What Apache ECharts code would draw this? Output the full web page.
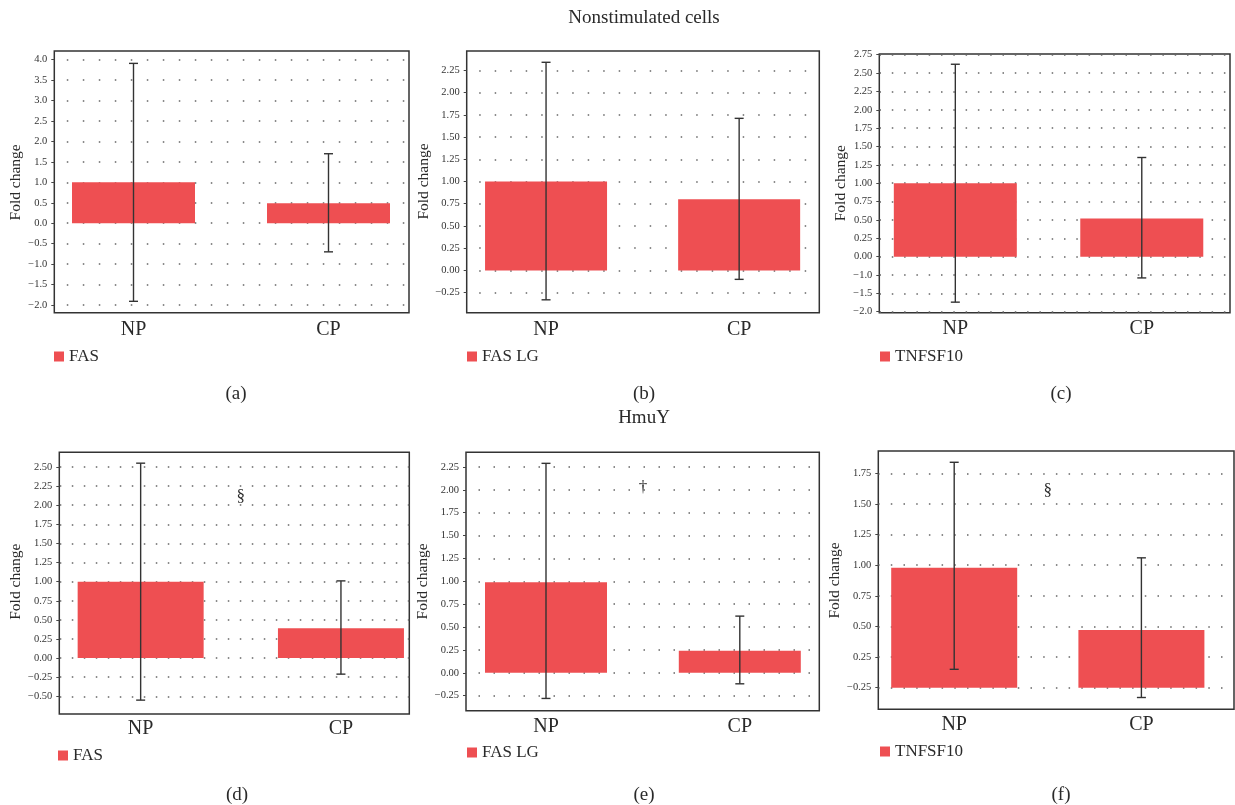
<!DOCTYPE html>
<html>
<head>
<meta charset="utf-8">
<script src="https://cdn.jsdelivr.net/npm/echarts@6/dist/echarts.min.js"></script>
<style>html,body{margin:0;padding:0;background:#fff}#c{width:1235px;height:805px}</style>
</head>
<body>
<div id="c"></div>
<script>
// ---------- data ----------
const categories = ['NP', 'CP'];
const groupTitles = ['Nonstimulated cells', 'HmuY'];
const captions = ['(a)', '(b)', '(c)', '(d)', '(e)', '(f)'];
const genes = ['FAS', 'FAS LG', 'TNFSF10', 'FAS', 'FAS LG', 'TNFSF10'];

// (a) Nonstimulated FAS
const valuesA = [1.00, 0.49];
const errLowA = [-1.91, -0.70];
const errHighA = [3.91, 1.70];
// (b) Nonstimulated FAS LG
const valuesB = [1.00, 0.80];
const errLowB = [-0.33, -0.10];
const errHighB = [2.34, 1.71];
// (c) Nonstimulated TNFSF10
const valuesC = [1.00, 0.52];
const errLowC = [-0.62, -0.29];
const errHighC = [2.62, 1.35];
// (d) HmuY FAS
const valuesD = [1.00, 0.39];
const errLowD = [-0.55, -0.21];
const errHighD = [2.55, 1.01];
// (e) HmuY FAS LG
const valuesE = [0.99, 0.24];
const errLowE = [-0.28, -0.12];
const errHighE = [2.29, 0.62];
// (f) HmuY TNFSF10
const valuesF = [0.98, 0.47];
const errLowF = [0.15, -0.08];
const errHighF = [1.84, 1.06];

// axis scale [min, max, interval]
const rangeA = [-2, 4, 0.5];
const rangeB = [-0.25, 2.25, 0.25];
const rangeC = [-0.75, 2.75, 0.25];
const rangeD = [-0.5, 2.5, 0.25];
const rangeE = [-0.25, 2.25, 0.25];
const rangeF = [0, 1.75, 0.25];

// tick labels as printed (bottom to top)
const ticksA = ['\u22122.0','\u22121.5','\u22121.0','\u22120.5','0.0','0.5','1.0','1.5','2.0','2.5','3.0','3.5','4.0'];
const ticksB = ['\u22120.25','0.00','0.25','0.50','0.75','1.00','1.25','1.50','1.75','2.00','2.25'];
const ticksC = ['\u22122.0','\u22121.5','\u22121.0','0.00','0.25','0.50','0.75','1.00','1.25','1.50','1.75','2.00','2.25','2.50','2.75'];
const ticksD = ['\u22120.50','\u22120.25','0.00','0.25','0.50','0.75','1.00','1.25','1.50','1.75','2.00','2.25','2.50'];
const ticksE = ['\u22120.25','0.00','0.25','0.50','0.75','1.00','1.25','1.50','1.75','2.00','2.25'];
const ticksF = ['\u22120.25','0.25','0.50','0.75','1.00','1.25','1.50','1.75'];

// significance marks
const markD = { text: '\u00a7', y: 2.11 };
const markE = { text: '\u2020', y: 2.03 };
const markF = { text: '\u00a7', y: 1.61 };

// ---------- layout (pixels) ----------
const layout = [
  { box: [54.3, 51, 409, 312.7],   tk: [59.7, 305],   dx: [36, 426],      bw: 123, dot: 16,   gap: 28,   lab: 15,   leg: [54, 348],  cap: [236, 384.5] },
  { box: [466.7, 51, 819.3, 312.7], tk: [70.3, 292.7], dx: [449.5, 835.7], bw: 122, dot: 15.5, gap: 31,   lab: 27.3, leg: [467, 348], cap: [644, 384.5] },
  { box: [879.3, 54, 1230, 312.7], tk: [54.7, 311.7], dx: [862.1, 1251.7], bw: 123, dot: 12.3, gap: 30,   lab: 7.3,  leg: [880, 348], cap: [1061, 384.5] },
  { box: [59.3, 452.3, 409.3, 714], tk: [467, 696.3],  dx: [40.5, 441.1],  bw: 126, dot: 12,   gap: 32.5, lab: 22.7, leg: [58, 747],  cap: [237, 785.5] },
  { box: [466, 452.3, 819.3, 710.7], tk: [467, 695.7], dx: [449.1, 836.7], bw: 122, dot: 15,   gap: 33,   lab: 21.3, leg: [467, 744], cap: [644, 785.5] },
  { box: [878.3, 451, 1234, 709.3], tk: [473.3, 687.7], dx: [860.6, 1258.2], bw: 126, dot: 12.7, gap: 30,  lab: 27.3, leg: [880, 743], cap: [1061, 785.5] }
];
const groupTitlePos = [[644, 9], [644, 408.5]];

const FONT = "'Liberation Serif','DejaVu Serif',serif";
const BAR = '#EE4F52';
const INK = '#2a2a2a';

const panels = [
  { values: valuesA, low: errLowA, high: errHighA, range: rangeA, ticks: ticksA, mark: null },
  { values: valuesB, low: errLowB, high: errHighB, range: rangeB, ticks: ticksB, mark: null },
  { values: valuesC, low: errLowC, high: errHighC, range: rangeC, ticks: ticksC, mark: null },
  { values: valuesD, low: errLowD, high: errHighD, range: rangeD, ticks: ticksD, mark: markD },
  { values: valuesE, low: errLowE, high: errHighE, range: rangeE, ticks: ticksE, mark: markE },
  { values: valuesF, low: errLowF, high: errHighF, range: rangeF, ticks: ticksF, mark: markF }
];

function errorBar(params, api) {
  const x = api.value(0);
  const lo = api.coord([x, api.value(1)]);
  const hi = api.coord([x, api.value(2)]);
  const cap = 4.5;
  const st = { stroke: '#333', lineWidth: 1.4 };
  return {
    type: 'group',
    children: [
      { type: 'line', shape: { x1: hi[0], y1: hi[1], x2: lo[0], y2: lo[1] }, style: st },
      { type: 'line', shape: { x1: hi[0] - cap, y1: hi[1], x2: hi[0] + cap, y2: hi[1] }, style: st },
      { type: 'line', shape: { x1: lo[0] - cap, y1: lo[1], x2: lo[0] + cap, y2: lo[1] }, style: st }
    ]
  };
}

const grid = [], xAxis = [], yAxis = [], series = [], legend = [], title = [];

panels.forEach((p, i) => {
  const L = layout[i];
  const [bl, bt, br, bb] = L.box;
  const [tt, tb] = L.tk;
  const [mn, mx, iv] = p.range;

  // tick/label grid (spans the frame width)
  const gT = grid.length;
  grid.push({ left: bl, top: tt, width: br - bl, height: tb - tt });
  xAxis.push({ gridIndex: gT, type: 'category', data: categories, show: false });
  yAxis.push({
    gridIndex: gT, type: 'value', min: mn, max: mx, interval: iv,
    name: 'Fold change', nameLocation: 'middle', nameGap: L.gap,
    nameTextStyle: { fontFamily: FONT, fontSize: 15.5, color: INK },
    axisLine: { show: false },
    axisTick: { show: true, length: 3, lineStyle: { color: '#444', width: 1 } },
    axisLabel: {
      margin: 7, fontSize: 10.5, color: '#333', fontFamily: FONT,
      formatter: v => p.ticks[Math.round((v - mn) / iv)]
    },
    splitLine: {
      show: true,
      lineStyle: { color: '#666', width: 1.5, type: [1.5, L.dot - 1.5], dashOffset: L.dot - 12.5 }
    }
  });

  // data grid
  const gD = grid.length;
  grid.push({ left: L.dx[0], top: tt, width: L.dx[1] - L.dx[0], height: tb - tt });
  xAxis.push({
    gridIndex: gD, type: 'category', data: categories,
    axisLine: { show: false }, axisTick: { show: false },
    axisLabel: { margin: L.lab, fontSize: 20, color: INK, fontFamily: FONT }
  });
  yAxis.push({ gridIndex: gD, type: 'value', min: mn, max: mx, interval: iv, show: false, splitLine: { show: false } });

  // frame
  const gF = grid.length;
  grid.push({ left: bl, top: bt, width: br - bl, height: bb - bt, show: true, borderColor: '#333', borderWidth: 1.5, backgroundColor: 'transparent' });
  xAxis.push({ gridIndex: gF, type: 'value', show: false });
  yAxis.push({ gridIndex: gF, type: 'value', show: false });

  series.push({
    type: 'bar', name: genes[i], xAxisIndex: gD, yAxisIndex: gD,
    data: p.values, barWidth: L.bw, itemStyle: { color: BAR }, z: 2, silent: true
  });
  series.push({
    type: 'custom', xAxisIndex: gD, yAxisIndex: gD, z: 4, silent: true,
    data: categories.map((c, k) => [k, p.low[k], p.high[k]]),
    renderItem: errorBar
  });
  if (p.mark) {
    const m = p.mark;
    series.push({
      type: 'custom', xAxisIndex: gD, yAxisIndex: gD, z: 4, silent: true,
      data: [[0, m.y]],
      renderItem: (params, api) => {
        const a = api.coord([0, api.value(1)]);
        const b = api.coord([1, api.value(1)]);
        return {
          type: 'text',
          style: {
            text: m.text, x: (a[0] + b[0]) / 2, y: a[1],
            fill: INK, font: '17px ' + FONT,
            align: 'center', verticalAlign: 'middle',
            textAlign: 'center', textVerticalAlign: 'middle'
          }
        };
      }
    });
  }

  legend.push({
    data: [genes[i]], left: L.leg[0], top: L.leg[1], padding: 0,
    icon: 'rect', itemWidth: 10, itemHeight: 10, selectedMode: false,
    textStyle: { fontFamily: FONT, fontSize: 17, color: INK }
  });
  title.push({
    text: captions[i], left: L.cap[0], top: L.cap[1], textAlign: 'center', padding: 0,
    textStyle: { fontFamily: FONT, fontSize: 19, fontWeight: 'normal', color: INK }
  });
});

groupTitles.forEach((t, i) => {
  title.push({
    text: t, left: groupTitlePos[i][0], top: groupTitlePos[i][1], textAlign: 'center', padding: 0,
    textStyle: { fontFamily: FONT, fontSize: 19, fontWeight: 'normal', color: INK }
  });
});

const chart = echarts.init(document.getElementById('c'));
chart.setOption({
  animation: false,
  backgroundColor: '#fff',
  title, legend, grid, xAxis, yAxis, series
});
</script>
</body>
</html>
